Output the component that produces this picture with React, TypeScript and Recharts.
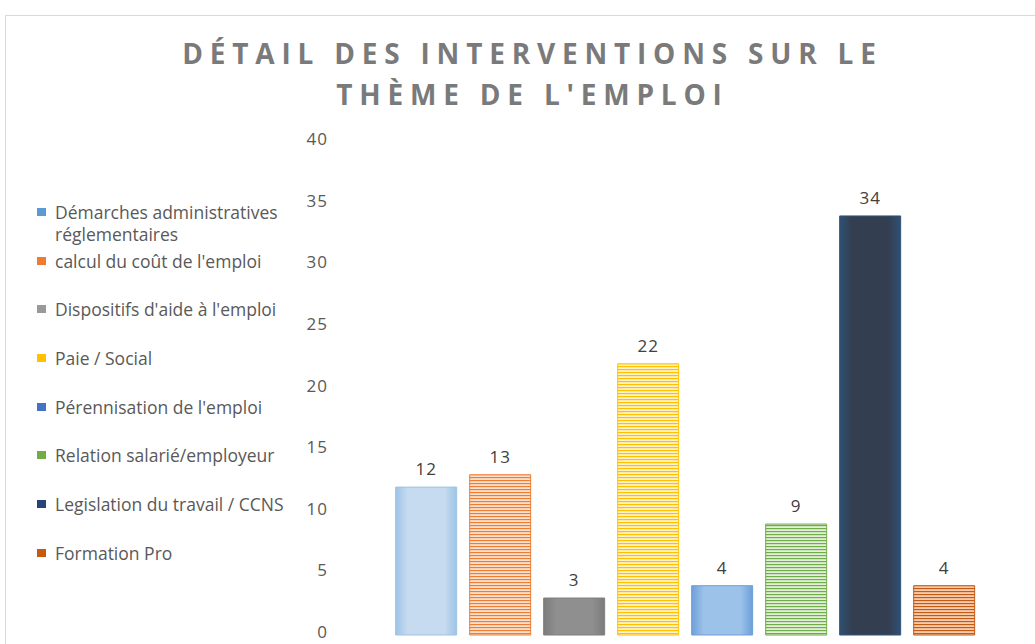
import { BarChart, Bar, XAxis, YAxis, Cell, LabelList } from 'recharts'

const categories = [
  'Démarches administratives réglementaires',
  "calcul du coût de l'emploi",
  "Dispositifs d'aide à l'emploi",
  'Paie / Social',
  "Pérennisation de l'emploi",
  'Relation salarié/employeur',
  'Legislation du travail / CCNS',
  'Formation Pro',
]
const values = [12, 13, 3, 22, 4, 9, 34, 4]
const yTicks = [0, 5, 10, 15, 20, 25, 30, 35, 40]

// fill per category: gradient (edge, center) or stripes (dark, light)
const fills = [
  { kind: 'grad', a: '#9dc3e6', b: '#c6dbf0', stroke: '#9dc3e6', legend: '#5b9bd5' },
  { kind: 'stripe', a: '#ed7d31', b: '#fbe0cf', stroke: '#ed7d31', legend: '#ed7d31' },
  { kind: 'grad', a: '#7b7b7b', b: '#8f8f8f', stroke: '#7f7f7f', legend: '#999999' },
  { kind: 'stripe', a: '#ffc000', b: '#fff2cc', stroke: '#ffc000', legend: '#ffc000' },
  { kind: 'grad', a: '#6d9fda', b: '#9cc2e9', stroke: '#6d9fda', legend: '#4472c4' },
  { kind: 'stripe', a: '#70ad47', b: '#e2efd9', stroke: '#70ad47', legend: '#70ad47' },
  { kind: 'grad', a: '#2f5074', b: '#333f50', stroke: '#2e5478', legend: '#264478' },
  { kind: 'stripe', a: '#c55a11', b: '#f8cbad', stroke: '#c55a11', legend: '#c55a11' },
]

const data = categories.map((name, i) => ({ name, value: values[i] }))

const FONT = '"Open Sans", sans-serif'

function Defs() {
  return (
    <svg width={0} height={0} style={{ position: 'absolute' }}>
      <defs>
        {fills.map((f, i) =>
          f.kind === 'grad' ? (
            <linearGradient key={i} id={`f${i}`} x1="0" y1="0" x2="1" y2="0">
              <stop offset="0%" stopColor={f.a} />
              <stop offset="20%" stopColor={f.b} />
              <stop offset="80%" stopColor={f.b} />
              <stop offset="100%" stopColor={f.a} />
            </linearGradient>
          ) : (
            <pattern key={i} id={`f${i}`} patternUnits="userSpaceOnUse" width={6} height={3}>
              <rect x={0} y={0} width={6} height={1.5} fill={f.a} />
              <rect x={0} y={1.5} width={6} height={1.5} fill={f.b} />
            </pattern>
          )
        )}
      </defs>
    </svg>
  )
}

export default function App() {
  return (
    <div style={{ position: 'absolute', left: 0, top: 0, width: 1035, height: 644, background: '#fff', overflow: 'hidden' }}>
      <Defs />
      <div
        style={{
          position: 'absolute',
          left: 5,
          top: 15,
          width: 1100,
          height: 700,
          borderTop: '1px solid #d9d9d9',
          borderLeft: '1px solid #d9d9d9',
        }}
      />
      <div
        style={{
          position: 'absolute',
          left: 4,
          top: 33,
          width: 1057,
          textAlign: 'center',
          fontFamily: FONT,
          fontWeight: 700,
          fontSize: 28,
          lineHeight: '41px',
          letterSpacing: 6.8,
          color: '#7a7a7a',
        }}
      >
        DÉTAIL DES INTERVENTIONS SUR LE
        <br />
        THÈME DE L'EMPLOI
      </div>
      <div style={{ position: 'absolute', left: 37, top: 201, fontFamily: FONT, fontSize: 17.5, color: '#595959' }}>
        {categories.map((c, i) => (
          <div key={c} style={{ position: 'relative', height: 48.7, paddingLeft: 18, lineHeight: '22px', width: 240 }}>
            <span
              style={{ position: 'absolute', left: 0, top: 7, width: 9, height: 8, background: fills[i].legend }}
            />
            {c}
          </div>
        ))}
      </div>
      <BarChart
        width={1035}
        height={644}
        data={data}
        margin={{ top: 142, right: 54, bottom: 9, left: 289 }}
        barCategoryGap="9%"
        style={{ position: 'absolute', left: 0, top: 0 }}
      >
        <XAxis dataKey="name" hide />
        <YAxis
          width={100}
          domain={[0, 40]}
          ticks={yTicks}
          interval={0}
          axisLine={false}
          tickLine={false}
          tickSize={6}
          tickMargin={55}
          tick={{ fill: '#595959', fontSize: 17, fontFamily: FONT, letterSpacing: 1, dy: -3 }}
        />
        <Bar dataKey="value" isAnimationActive={false}>
          {data.map((d, i) => (
            <Cell key={d.name} fill={`url(#f${i})`} stroke={fills[i].stroke} strokeWidth={1} />
          ))}
          <LabelList
            dataKey="value"
            position="top"
            offset={12}
            fill="#404040"
            fontSize={17}
            letterSpacing={1}
            fontFamily={FONT}
          />
        </Bar>
      </BarChart>
    </div>
  )
}
